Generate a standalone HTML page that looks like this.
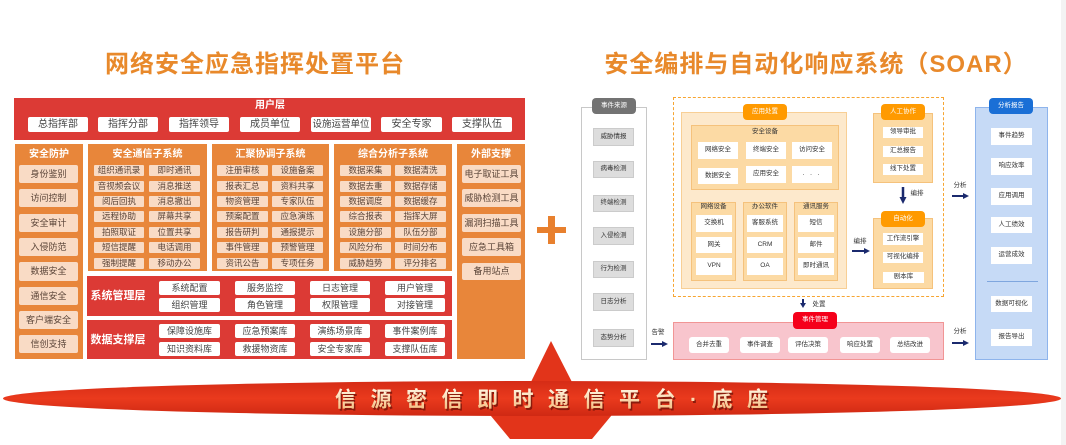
<!DOCTYPE html>
<html><head><meta charset="utf-8">
<style>
*{margin:0;padding:0}
body{width:1066px;height:445px;position:relative;background:#fff;overflow:hidden;font-family:"Liberation Sans","Noto Sans CJK SC",sans-serif;}
.b{position:absolute;display:flex;align-items:center;justify-content:center;box-sizing:border-box;white-space:nowrap;line-height:1}
.r{background:#DC3A35}
.o{background:#E8863A}
.p{background:#F9DBC5;color:#5a4438;font-size:9px;border-radius:2px}
.p8{background:#F9DBC5;color:#5a4438;font-size:8.5px;border-radius:1px}
.w{background:#fff;color:#444;border-radius:2px}
.hd{color:#fff;font-weight:bold;font-size:10px}
.t{font-size:6.5px;color:#333}
.g{background:#DDDDDD;border:1px solid #CBCBCB}
.wi{background:#fff}
.tag{color:#fff;font-size:6.5px;border-radius:4px}
.lo{background:#FCDAA4;border:1px solid #F5C27C}
</style></head><body>

<!-- right faint strip -->
<div class="b" style="left:1061px;top:0;width:5px;height:445px;background:#F3F3F3"></div>

<!-- Titles -->
<div class="b" style="left:55px;top:51px;width:400px;height:28px;font-size:24px;font-weight:bold;color:#E8892B;letter-spacing:1px">网络安全应急指挥处置平台</div>
<div class="b" style="left:606px;top:51px;width:420px;height:28px;font-size:24px;font-weight:bold;color:#E8892B;letter-spacing:1px">安全编排与自动化响应系统（SOAR）</div>

<!-- 用户层 -->
<div class="b r" style="left:14px;top:98px;width:511px;height:42px"></div>
<div class="b hd" style="left:240px;top:100px;width:60px;height:12px">用户层</div>
<div class="b w" style="left:28px;top:117px;width:60px;height:15px;font-size:10px">总指挥部</div>
<div class="b w" style="left:98px;top:117px;width:60px;height:15px;font-size:10px">指挥分部</div>
<div class="b w" style="left:169px;top:117px;width:60px;height:15px;font-size:10px">指挥领导</div>
<div class="b w" style="left:240px;top:117px;width:60px;height:15px;font-size:10px">成员单位</div>
<div class="b w" style="left:311px;top:117px;width:60px;height:15px;font-size:9.5px">设施运营单位</div>
<div class="b w" style="left:381px;top:117px;width:61px;height:15px;font-size:10px">安全专家</div>
<div class="b w" style="left:452px;top:117px;width:60px;height:15px;font-size:10px">支撑队伍</div>

<!-- Columns -->
<div class="b o" style="left:15px;top:144px;width:68px;height:215px"></div>
<div class="b o" style="left:88px;top:144px;width:119px;height:127px"></div>
<div class="b o" style="left:212px;top:144px;width:117px;height:127px"></div>
<div class="b o" style="left:334px;top:144px;width:118px;height:127px"></div>
<div class="b o" style="left:457px;top:144px;width:68px;height:215px"></div>

<div class="b hd" style="left:15px;top:148px;width:68px;height:13px">安全防护</div>
<div class="b hd" style="left:88px;top:148px;width:119px;height:13px">安全通信子系统</div>
<div class="b hd" style="left:212px;top:148px;width:117px;height:13px">汇聚协调子系统</div>
<div class="b hd" style="left:334px;top:148px;width:118px;height:13px">综合分析子系统</div>
<div class="b hd" style="left:457px;top:148px;width:68px;height:13px">外部支撑</div>

<!-- col1 -->
<div class="b p" style="left:19px;top:165px;width:59px;height:18px">身份鉴别</div>
<div class="b p" style="left:19px;top:189px;width:59px;height:18px">访问控制</div>
<div class="b p" style="left:19px;top:214px;width:59px;height:18px">安全审计</div>
<div class="b p" style="left:19px;top:238px;width:59px;height:18px">入侵防范</div>
<div class="b p" style="left:19px;top:262px;width:59px;height:19px">数据安全</div>
<div class="b p" style="left:19px;top:287px;width:59px;height:18px">通信安全</div>
<div class="b p" style="left:19px;top:311px;width:59px;height:18px">客户端安全</div>
<div class="b p" style="left:19px;top:335px;width:59px;height:18px">信创支持</div>

<!-- col2 -->
<div class="b p8" style="left:94px;top:165px;width:50px;height:11px">组织通讯录</div>
<div class="b p8" style="left:149px;top:165px;width:51px;height:11px">即时通讯</div>
<div class="b p8" style="left:94px;top:181px;width:50px;height:11px">音视频会议</div>
<div class="b p8" style="left:149px;top:181px;width:51px;height:11px">消息推送</div>
<div class="b p8" style="left:94px;top:196px;width:50px;height:11px">阅后回执</div>
<div class="b p8" style="left:149px;top:196px;width:51px;height:11px">消息撤出</div>
<div class="b p8" style="left:94px;top:211px;width:50px;height:11px">远程协助</div>
<div class="b p8" style="left:149px;top:211px;width:51px;height:11px">屏幕共享</div>
<div class="b p8" style="left:94px;top:227px;width:50px;height:11px">拍照取证</div>
<div class="b p8" style="left:149px;top:227px;width:51px;height:11px">位置共享</div>
<div class="b p8" style="left:94px;top:242px;width:50px;height:11px">短信提醒</div>
<div class="b p8" style="left:149px;top:242px;width:51px;height:11px">电话调用</div>
<div class="b p8" style="left:94px;top:258px;width:50px;height:11px">强制提醒</div>
<div class="b p8" style="left:149px;top:258px;width:51px;height:11px">移动办公</div>

<!-- col3 -->
<div class="b p8" style="left:217px;top:165px;width:51px;height:11px">注册审核</div>
<div class="b p8" style="left:272px;top:165px;width:51px;height:11px">设施备案</div>
<div class="b p8" style="left:217px;top:181px;width:51px;height:11px">报表汇总</div>
<div class="b p8" style="left:272px;top:181px;width:51px;height:11px">资料共享</div>
<div class="b p8" style="left:217px;top:196px;width:51px;height:11px">物资管理</div>
<div class="b p8" style="left:272px;top:196px;width:51px;height:11px">专家队伍</div>
<div class="b p8" style="left:217px;top:211px;width:51px;height:11px">预案配置</div>
<div class="b p8" style="left:272px;top:211px;width:51px;height:11px">应急演练</div>
<div class="b p8" style="left:217px;top:227px;width:51px;height:11px">报告研判</div>
<div class="b p8" style="left:272px;top:227px;width:51px;height:11px">通报提示</div>
<div class="b p8" style="left:217px;top:242px;width:51px;height:11px">事件管理</div>
<div class="b p8" style="left:272px;top:242px;width:51px;height:11px">预警管理</div>
<div class="b p8" style="left:217px;top:258px;width:51px;height:11px">资讯公告</div>
<div class="b p8" style="left:272px;top:258px;width:51px;height:11px">专项任务</div>

<!-- col4 -->
<div class="b p8" style="left:340px;top:165px;width:51px;height:11px">数据采集</div>
<div class="b p8" style="left:395px;top:165px;width:51px;height:11px">数据清洗</div>
<div class="b p8" style="left:340px;top:181px;width:51px;height:11px">数据去重</div>
<div class="b p8" style="left:395px;top:181px;width:51px;height:11px">数据存储</div>
<div class="b p8" style="left:340px;top:196px;width:51px;height:11px">数据调度</div>
<div class="b p8" style="left:395px;top:196px;width:51px;height:11px">数据缓存</div>
<div class="b p8" style="left:340px;top:211px;width:51px;height:11px">综合报表</div>
<div class="b p8" style="left:395px;top:211px;width:51px;height:11px">指挥大屏</div>
<div class="b p8" style="left:340px;top:227px;width:51px;height:11px">设施分部</div>
<div class="b p8" style="left:395px;top:227px;width:51px;height:11px">队伍分部</div>
<div class="b p8" style="left:340px;top:242px;width:51px;height:11px">风险分布</div>
<div class="b p8" style="left:395px;top:242px;width:51px;height:11px">时间分布</div>
<div class="b p8" style="left:340px;top:258px;width:51px;height:11px">威胁趋势</div>
<div class="b p8" style="left:395px;top:258px;width:51px;height:11px">评分排名</div>

<!-- col5 -->
<div class="b p" style="left:462px;top:165px;width:59px;height:18px">电子取证工具</div>
<div class="b p" style="left:462px;top:189px;width:59px;height:18px">威胁检测工具</div>
<div class="b p" style="left:462px;top:214px;width:59px;height:18px">漏洞扫描工具</div>
<div class="b p" style="left:462px;top:238px;width:59px;height:18px">应急工具箱</div>
<div class="b p" style="left:462px;top:263px;width:59px;height:17px">备用站点</div>

<!-- 系统管理层 -->
<div class="b r" style="left:87px;top:276px;width:365px;height:40px"></div>
<div class="b hd" style="left:92px;top:290px;width:52px;height:13px;font-size:11px">系统管理层</div>
<div class="b w" style="left:159px;top:281px;width:61px;height:14px;font-size:9px">系统配置</div>
<div class="b w" style="left:235px;top:281px;width:60px;height:14px;font-size:9px">服务监控</div>
<div class="b w" style="left:310px;top:281px;width:60px;height:14px;font-size:9px">日志管理</div>
<div class="b w" style="left:385px;top:281px;width:60px;height:14px;font-size:9px">用户管理</div>
<div class="b w" style="left:159px;top:298px;width:61px;height:14px;font-size:9px">组织管理</div>
<div class="b w" style="left:235px;top:298px;width:60px;height:14px;font-size:9px">角色管理</div>
<div class="b w" style="left:310px;top:298px;width:60px;height:14px;font-size:9px">权限管理</div>
<div class="b w" style="left:385px;top:298px;width:60px;height:14px;font-size:9px">对接管理</div>

<!-- 数据支撑层 -->
<div class="b r" style="left:87px;top:320px;width:365px;height:39px"></div>
<div class="b hd" style="left:92px;top:334px;width:52px;height:13px;font-size:11px">数据支撑层</div>
<div class="b w" style="left:159px;top:324px;width:61px;height:14px;font-size:9px">保障设施库</div>
<div class="b w" style="left:235px;top:324px;width:60px;height:14px;font-size:9px">应急预案库</div>
<div class="b w" style="left:310px;top:324px;width:60px;height:14px;font-size:9px">演练场景库</div>
<div class="b w" style="left:385px;top:324px;width:60px;height:14px;font-size:9px">事件案例库</div>
<div class="b w" style="left:159px;top:342px;width:61px;height:14px;font-size:9px">知识资料库</div>
<div class="b w" style="left:235px;top:342px;width:60px;height:14px;font-size:9px">救援物资库</div>
<div class="b w" style="left:310px;top:342px;width:60px;height:14px;font-size:9px">安全专家库</div>
<div class="b w" style="left:385px;top:342px;width:60px;height:14px;font-size:9px">支撑队伍库</div>

<!-- Plus -->
<div class="b" style="left:537px;top:227px;width:29px;height:6px;background:#E8802E"></div>
<div class="b" style="left:548px;top:216px;width:7px;height:28px;background:#E8802E"></div>

<!-- ===== Right panel ===== -->
<div class="b" style="left:581px;top:107px;width:66px;height:253px;border:1px solid #C8C8C8;background:#fff"></div>
<div class="b tag" style="left:592px;top:98px;width:44px;height:16px;background:#737373">事件来源</div>
<div class="b g t" style="left:593px;top:128px;width:41px;height:18px">威胁情报</div>
<div class="b g t" style="left:593px;top:161px;width:41px;height:17px">病毒检测</div>
<div class="b g t" style="left:593px;top:195px;width:41px;height:17px">终端检测</div>
<div class="b g t" style="left:593px;top:227px;width:41px;height:18px">入侵检测</div>
<div class="b g t" style="left:593px;top:261px;width:41px;height:17px">行为检测</div>
<div class="b g t" style="left:593px;top:293px;width:41px;height:18px">日志分析</div>
<div class="b g t" style="left:593px;top:329px;width:41px;height:18px">态势分析</div>

<div class="b" style="left:673px;top:97px;width:271px;height:200px;border:1.5px dashed #F7A531"></div>
<div class="b" style="left:681px;top:112px;width:166px;height:177px;background:#FDE9CC;border:1px solid #F8CF95"></div>
<div class="b tag" style="left:743px;top:104px;width:44px;height:16px;background:#FF9A00">应用处置</div>

<div class="b lo" style="left:691px;top:125px;width:148px;height:65px"></div>
<div class="b t" style="left:741px;top:128px;width:48px;height:9px">安全设备</div>
<div class="b wi t" style="left:698px;top:142px;width:40px;height:17px">网络安全</div>
<div class="b wi t" style="left:746px;top:142px;width:40px;height:17px">终端安全</div>
<div class="b wi t" style="left:792px;top:142px;width:40px;height:17px">访问安全</div>
<div class="b wi t" style="left:698px;top:168px;width:40px;height:16px">数据安全</div>
<div class="b wi t" style="left:746px;top:166px;width:40px;height:17px">应用安全</div>
<div class="b wi t" style="left:792px;top:166px;width:40px;height:17px;letter-spacing:2px">. . .</div>

<div class="b lo" style="left:691px;top:202px;width:45px;height:79px"></div>
<div class="b lo" style="left:743px;top:202px;width:44px;height:79px"></div>
<div class="b lo" style="left:794px;top:202px;width:44px;height:79px"></div>
<div class="b t" style="left:691px;top:203px;width:45px;height:9px">网络设备</div>
<div class="b t" style="left:743px;top:203px;width:44px;height:9px">办公软件</div>
<div class="b t" style="left:794px;top:203px;width:44px;height:9px">通讯服务</div>
<div class="b wi t" style="left:696px;top:215px;width:36px;height:17px">交换机</div>
<div class="b wi t" style="left:696px;top:237px;width:36px;height:16px">网关</div>
<div class="b wi t" style="left:696px;top:258px;width:36px;height:17px">VPN</div>
<div class="b wi t" style="left:747px;top:215px;width:36px;height:17px">客服系统</div>
<div class="b wi t" style="left:747px;top:237px;width:36px;height:16px">CRM</div>
<div class="b wi t" style="left:747px;top:258px;width:36px;height:17px">OA</div>
<div class="b wi t" style="left:798px;top:215px;width:36px;height:17px">短信</div>
<div class="b wi t" style="left:798px;top:237px;width:36px;height:16px">邮件</div>
<div class="b wi t" style="left:798px;top:258px;width:36px;height:17px">即时通讯</div>

<div class="b lo" style="left:873px;top:113px;width:60px;height:70px"></div>
<div class="b tag" style="left:881px;top:104px;width:44px;height:16px;background:#FF9A00">人工协作</div>
<div class="b wi t" style="left:883px;top:127px;width:40px;height:11px">领导审批</div>
<div class="b wi t" style="left:883px;top:146px;width:40px;height:11px">汇总报告</div>
<div class="b wi t" style="left:883px;top:164px;width:40px;height:11px">线下处置</div>

<div class="b lo" style="left:873px;top:218px;width:60px;height:71px"></div>
<div class="b tag" style="left:881px;top:211px;width:44px;height:16px;background:#FF9A00">自动化</div>
<div class="b wi t" style="left:883px;top:233px;width:40px;height:12px">工作流引擎</div>
<div class="b wi t" style="left:883px;top:252px;width:40px;height:11px">可视化编排</div>
<div class="b wi t" style="left:883px;top:272px;width:41px;height:11px">剧本库</div>

<div class="b" style="left:975px;top:107px;width:73px;height:253px;background:#C6DAF6;border:1.5px solid #8EB4EC"></div>
<div class="b tag" style="left:989px;top:98px;width:44px;height:16px;background:#1A6FD6">分析报告</div>
<div class="b wi t" style="left:991px;top:128px;width:41px;height:17px">事件趋势</div>
<div class="b wi t" style="left:991px;top:158px;width:41px;height:17px">响应效率</div>
<div class="b wi t" style="left:991px;top:188px;width:41px;height:17px">应用调用</div>
<div class="b wi t" style="left:991px;top:217px;width:41px;height:16px">人工绩效</div>
<div class="b wi t" style="left:991px;top:247px;width:41px;height:17px">运营成效</div>
<div class="b" style="left:987px;top:281px;width:51px;height:1px;background:#7FA6DE"></div>
<div class="b wi t" style="left:991px;top:296px;width:41px;height:16px">数据可视化</div>
<div class="b wi t" style="left:991px;top:329px;width:41px;height:17px">报告导出</div>

<div class="b" style="left:673px;top:322px;width:271px;height:38px;background:#F8C5CD;border:1.5px solid #F19595"></div>
<div class="b tag" style="left:793px;top:312px;width:44px;height:17px;background:#F5001A">事件管理</div>
<div class="b wi t" style="left:689px;top:337px;width:40px;height:16px;border-radius:3px">合并去重</div>
<div class="b wi t" style="left:740px;top:337px;width:40px;height:16px;border-radius:3px">事件调查</div>
<div class="b wi t" style="left:788px;top:337px;width:40px;height:16px;border-radius:3px">评估决策</div>
<div class="b wi t" style="left:840px;top:337px;width:40px;height:16px;border-radius:3px">响应处置</div>
<div class="b wi t" style="left:890px;top:337px;width:40px;height:16px;border-radius:3px">总结改进</div>

<div class="b t" style="left:850px;top:238px;width:20px;height:8px">编排</div>
<div class="b t" style="left:907px;top:190px;width:20px;height:8px">编排</div>
<div class="b t" style="left:950px;top:182px;width:20px;height:8px">分析</div>
<div class="b t" style="left:950px;top:328px;width:20px;height:8px">分析</div>
<div class="b t" style="left:648px;top:329px;width:20px;height:8px">告警</div>
<div class="b t" style="left:809px;top:301px;width:20px;height:8px">处置</div>

<svg width="1066" height="445" style="position:absolute;left:0;top:0" xmlns="http://www.w3.org/2000/svg">
  <defs>
    <linearGradient id="rg" x1="0" y1="0" x2="0" y2="1">
      <stop offset="0" stop-color="#D52C16"/>
      <stop offset="0.5" stop-color="#EA3A1D"/>
      <stop offset="1" stop-color="#CF2913"/>
    </linearGradient>
    <linearGradient id="tg" x1="0" y1="0" x2="0" y2="1">
      <stop offset="0" stop-color="#FFF8E6"/>
      <stop offset="1" stop-color="#F5B878"/>
    </linearGradient>
  </defs>
  <g fill="#1B2A6E" stroke="#1B2A6E">
    <line x1="852" y1="251" x2="865" y2="251" stroke-width="2"/>
    <polygon points="864,248 870,251 864,254" stroke="none"/>
    <line x1="903" y1="187" x2="903" y2="198" stroke-width="2.5"/>
    <polygon points="899.5,197 906.5,197 903,204" stroke="none"/>
    <line x1="952" y1="196" x2="964" y2="196" stroke-width="2"/>
    <polygon points="963,193 969,196 963,199" stroke="none"/>
    <line x1="952" y1="343" x2="964" y2="343" stroke-width="2"/>
    <polygon points="963,340 969,343 963,346" stroke="none"/>
    <line x1="651" y1="344" x2="663" y2="344" stroke-width="2"/>
    <polygon points="662,341 668,344 662,347" stroke="none"/>
    <line x1="803" y1="299" x2="803" y2="304" stroke-width="2"/>
    <polygon points="800,303 806,303 803,308" stroke="none"/>
  </g>
  <polygon points="529,386 551,341 574,386" fill="#E2341A"/>
  <polygon points="486,410 616,410 592,439 510,439" fill="#E2341A"/>
  <ellipse cx="532" cy="398.5" rx="529" ry="17.5" fill="url(#rg)"/>
  <text x="335" y="406.5" textLength="433" lengthAdjust="spacing" font-family="'Liberation Sans','Noto Sans CJK SC',sans-serif" font-size="21" font-weight="bold" fill="#6E1208" opacity="0.75" transform="translate(1.5,2)">信源密信即时通信平台·底座</text>
  <text x="335" y="406.5" textLength="433" lengthAdjust="spacing" font-family="'Liberation Sans','Noto Sans CJK SC',sans-serif" font-size="21" font-weight="bold" fill="url(#tg)">信源密信即时通信平台·底座</text>
</svg>
</body></html>
